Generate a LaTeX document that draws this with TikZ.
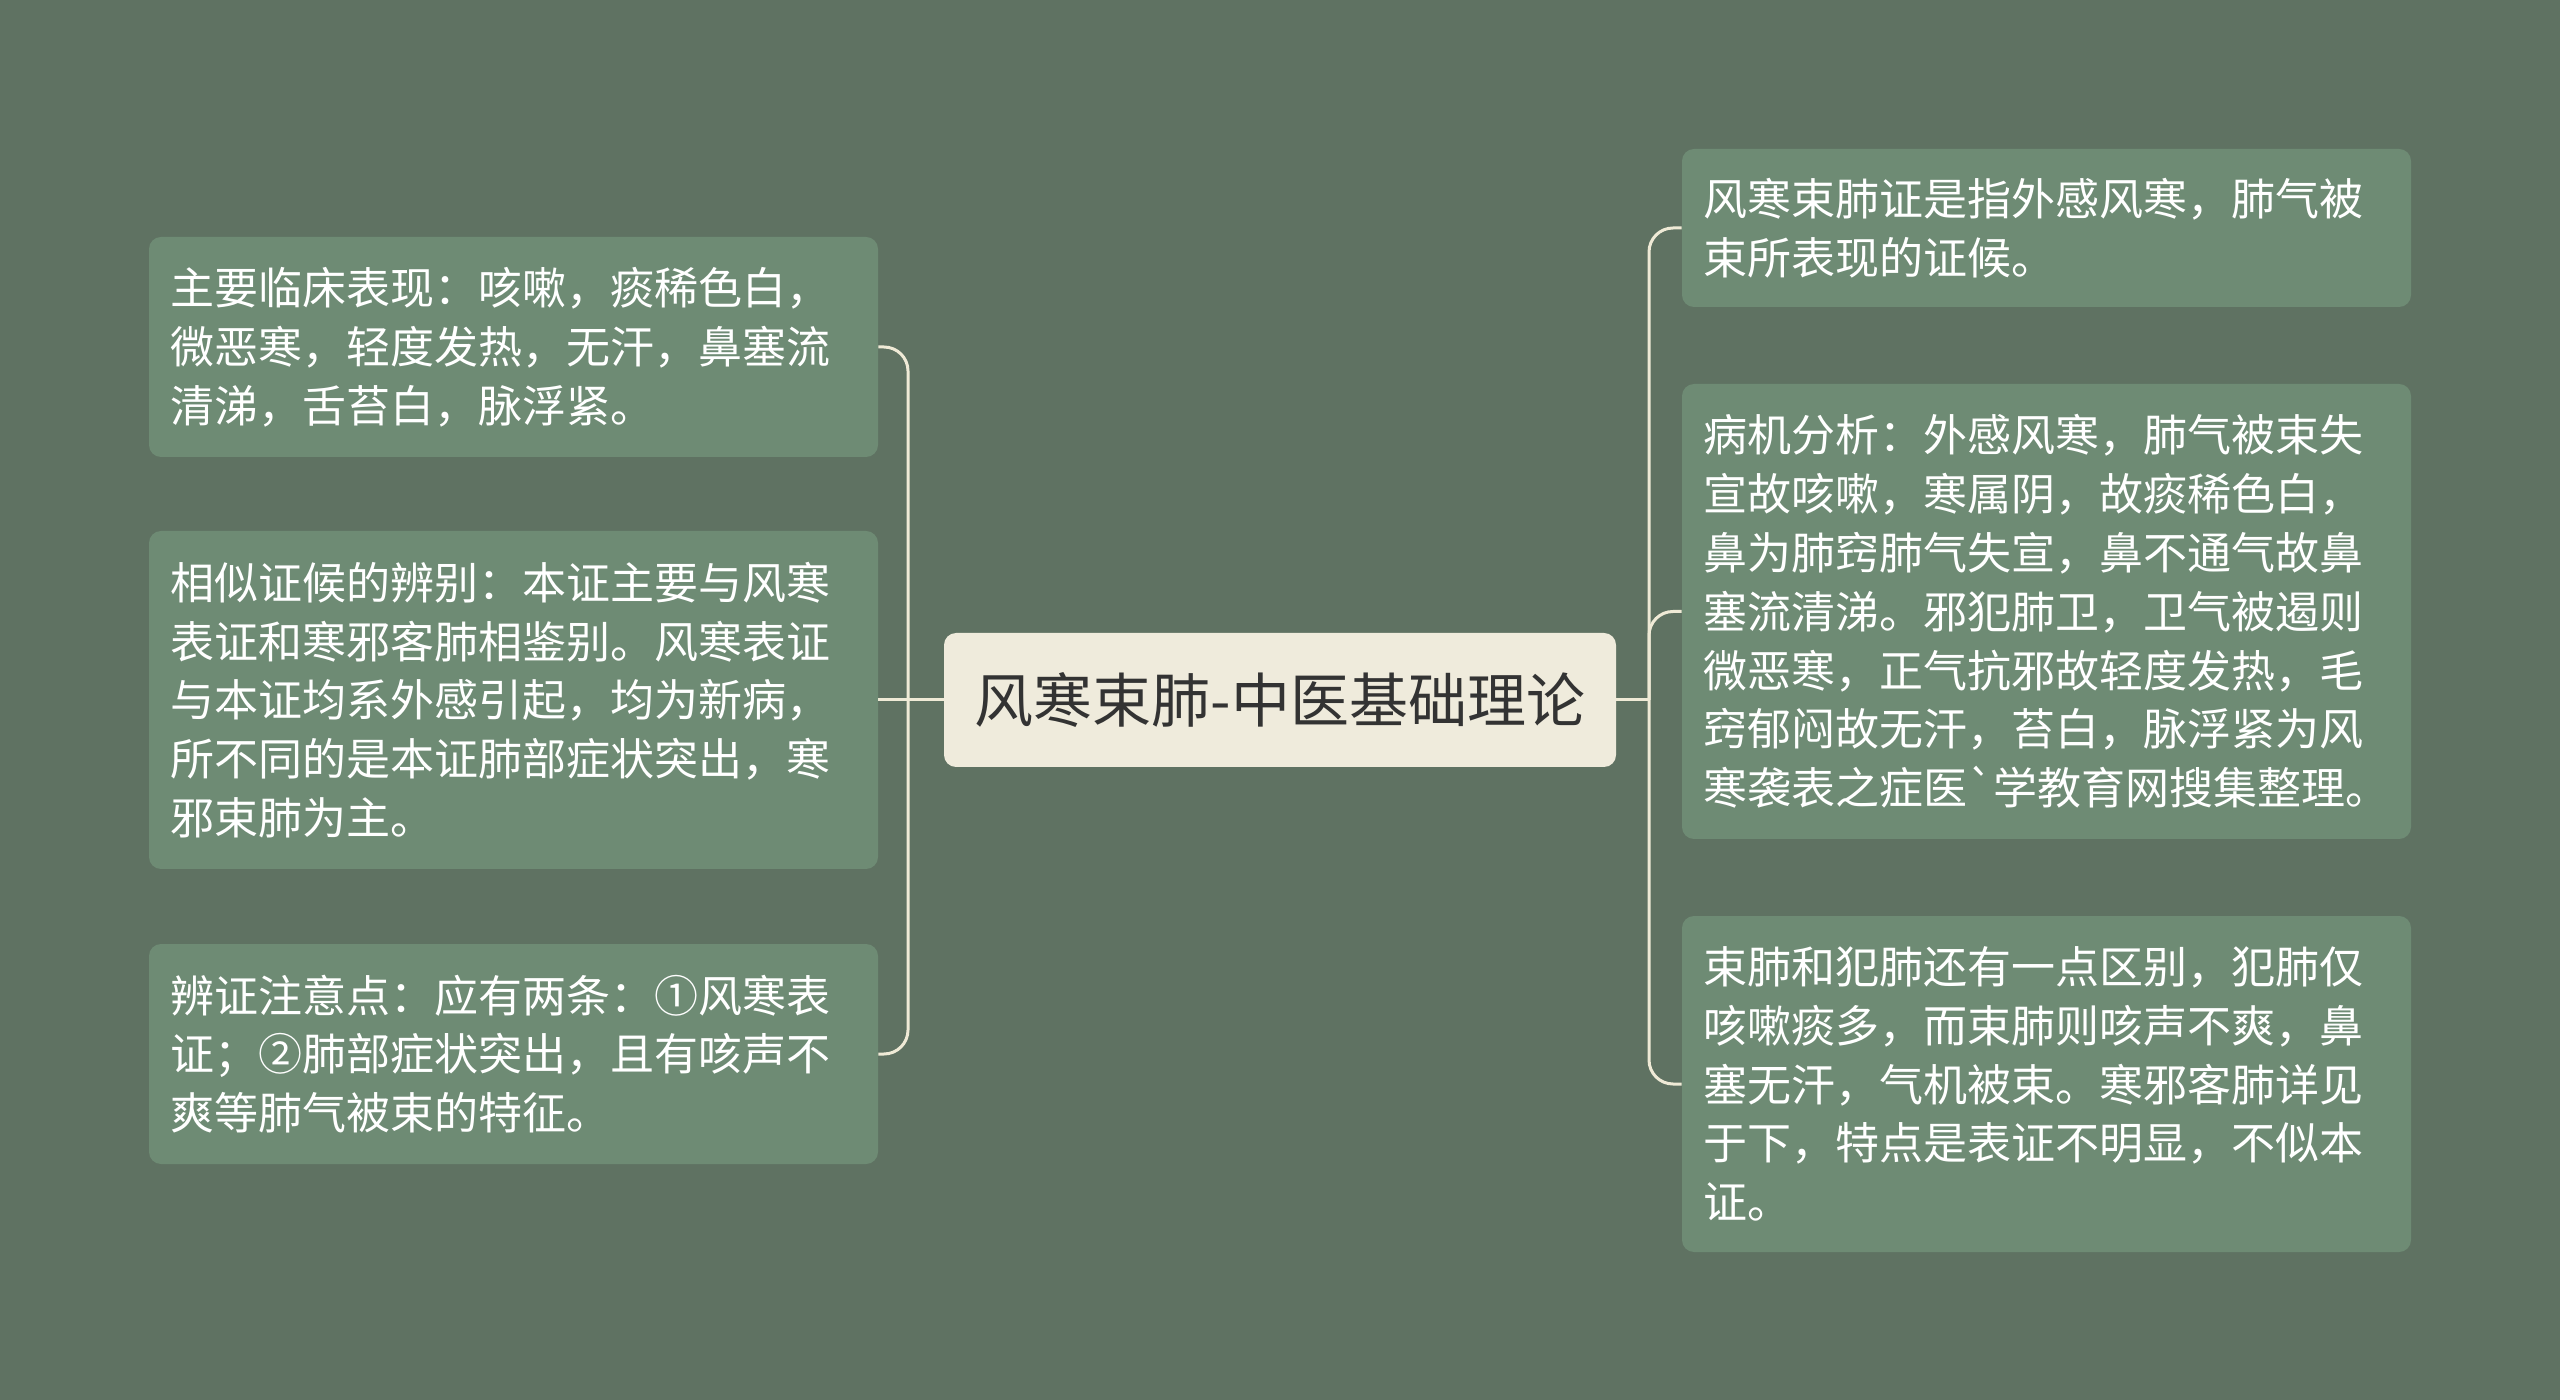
\documentclass[tikz,border=0pt]{standalone}
\usepackage{fontspec}
\newfontfamily\cjk{Noto Sans CJK SC}
\definecolor{bgcol}{HTML}{5F7262}
\definecolor{leafcol}{HTML}{6E8B74}
\definecolor{rootcol}{HTML}{EFEBDC}
\definecolor{linkcol}{HTML}{EFEAD6}
\tikzset{
  leaf/.style={rectangle, rounded corners=6pt, fill=leafcol, text=white,
    font=\cjk\fontsize{22}{29.4}\selectfont, align=left, text width=343.5pt,
    inner xsep=10.5pt, inner ysep=0pt, minimum width=364.5pt},
  root/.style={rectangle, rounded corners=6pt, fill=rootcol, text=black!80,
    font=\cjk\fontsize{29.5}{34}\selectfont, minimum width=336pt, minimum height=67pt},
  link/.style={draw=linkcol, line width=1.5pt, rounded corners=12pt},
}
\begin{document}
\begin{tikzpicture}[x=0.5pt, y=-0.5pt]
  \fill[bgcol] (0,0) rectangle (2560,1400);
  \useasboundingbox (0,0) rectangle (2560,1400);
  % centre
  \node[root] (root) at (1280,700) {风寒束肺-中医基础理论};
  % left side
  \node[leaf, minimum height=110pt] (sign) at (513.5,347)
    {主要临床表现：咳嗽，痰稀色白，\\微恶寒，轻度发热，无汗，鼻塞流\\清涕，舌苔白，脉浮紧。};
  \node[leaf, minimum height=169pt] (diff) at (513.5,700)
    {相似证候的辨别：本证主要与风寒\\表证和寒邪客肺相鉴别。风寒表证\\与本证均系外感引起，均为新病，\\所不同的是本证肺部症状突出，寒\\邪束肺为主。};
  \node[leaf, minimum height=110pt] (note) at (513.5,1054)
    {辨证注意点：应有两条：①风寒表\\证；②肺部症状突出，且有咳声不\\爽等肺气被束的特征。};
  % right side
  \node[leaf, minimum height=79pt] (defn) at (2046.5,228)
    {风寒束肺证是指外感风寒，肺气被\\束所表现的证候。};
  \node[leaf, minimum height=227.5pt] (mech) at (2046.5,611.5)
    {病机分析：外感风寒，肺气被束失\\宣故咳嗽，寒属阴，故痰稀色白，\\鼻为肺窍肺气失宣，鼻不通气故鼻\\塞流清涕。邪犯肺卫，卫气被遏则\\微恶寒，正气抗邪故轻度发热，毛\\窍郁闷故无汗，苔白，脉浮紧为风\\寒袭表之症医`学教育网搜集整理。};
  \node[leaf, minimum height=168pt] (contrast) at (2046.5,1084)
    {束肺和犯肺还有一点区别，犯肺仅\\咳嗽痰多，而束肺则咳声不爽，鼻\\塞无汗，气机被束。寒邪客肺详见\\于下，特点是表证不明显，不似本\\证。};
  % connectors
  \coordinate (lhub) at (908,700);
  \coordinate (rhub) at (1649,700);
  \draw[link] (root.west) -- (diff.east);
  \draw[link] (lhub) |- (sign.east);
  \draw[link] (lhub) |- (note.east);
  \draw[link] (root.east) -- (rhub);
  \draw[link] (rhub) |- (defn.west);
  \draw[link] (rhub) |- (mech.west);
  \draw[link] (rhub) |- (contrast.west);
\end{tikzpicture}
\end{document}
